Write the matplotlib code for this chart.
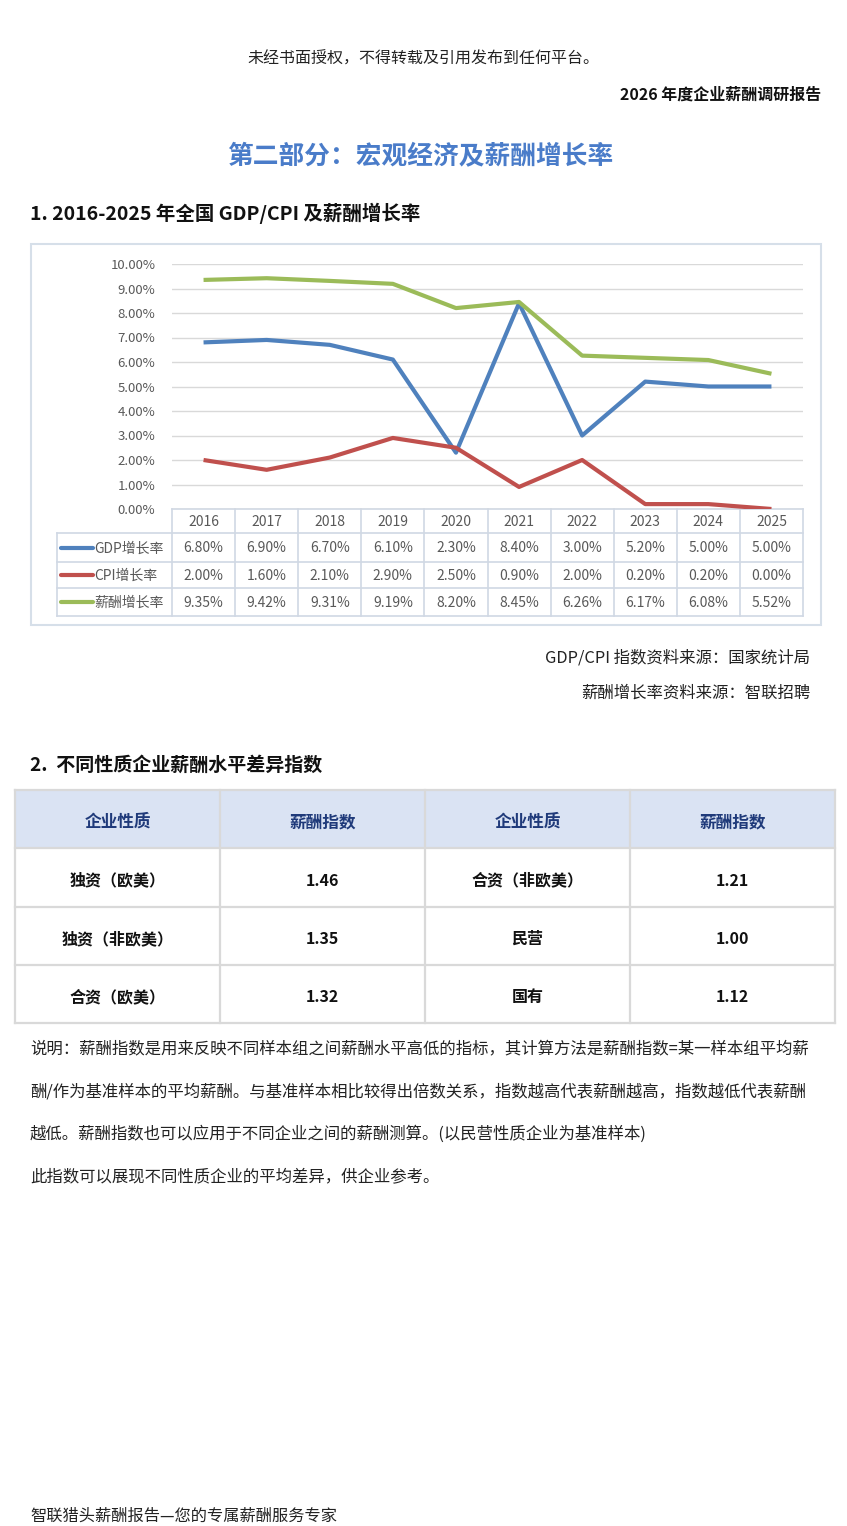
import matplotlib
matplotlib.use('Agg')
import matplotlib.pyplot as plt
import matplotlib.transforms as mtransforms
from matplotlib.patches import Rectangle

plt.rcParams['font.family'] = ['Noto Sans CJK SC', 'DejaVu Sans']

W, H = 847, 1526
DY = 3  # 文字垂直微调

# 图表数据
years = ['2016', '2017', '2018', '2019', '2020', '2021', '2022', '2023', '2024', '2025']
gdp = [6.80, 6.90, 6.70, 6.10, 2.30, 8.40, 3.00, 5.20, 5.00, 5.00]
cpi = [2.00, 1.60, 2.10, 2.90, 2.50, 0.90, 2.00, 0.20, 0.20, 0.00]
salary = [9.35, 9.42, 9.31, 9.19, 8.20, 8.45, 6.26, 6.17, 6.08, 5.52]
series_names = ['GDP增长率', 'CPI增长率', '薪酬增长率']
series_colors = ['#4f81bd', '#c0504d', '#9bbb59']
y_ticks = [0, 1, 2, 3, 4, 5, 6, 7, 8, 9, 10]

# 薪酬指数表
index_header = ['企业性质', '薪酬指数', '企业性质', '薪酬指数']
left_types = ['独资（欧美）', '独资（非欧美）', '合资（欧美）']
left_index = [1.46, 1.35, 1.32]
right_types = ['合资（非欧美）', '民营', '国有']
right_index = [1.21, 1.00, 1.12]

note_lines = [
    '说明：薪酬指数是用来反映不同样本组之间薪酬水平高低的指标，其计算方法是薪酬指数=某一样本组平均薪',
    '酬/作为基准样本的平均薪酬。与基准样本相比较得出倍数关系，指数越高代表薪酬越高，指数越低代表薪酬',
    '越低。薪酬指数也可以应用于不同企业之间的薪酬测算。(以民营性质企业为基准样本)',
    '此指数可以展现不同性质企业的平均差异，供企业参考。',
]

fig = plt.figure(figsize=(W / 100, H / 100), dpi=100)
page = fig.add_axes([0, 0, 1, 1])
page.set_xlim(0, W)
page.set_ylim(H, 0)
page.axis('off')

# 页眉
page.text(423, 56 + DY, '未经书面授权，不得转载及引用发布到任何平台。', ha='center', va='center',
          fontsize=11.5, color='#222222')
page.text(821, 92 + DY, '2026 年度企业薪酬调研报告', ha='right', va='center',
          fontsize=11.5, fontweight='bold', color='#111111')
page.text(420, 153 + DY, '第二部分：宏观经济及薪酬增长率', ha='center', va='center',
          fontsize=18.5, fontweight='bold', color='#4a7cc9')
page.text(30, 210 + DY, '1. 2016-2025 年全国 GDP/CPI 及薪酬增长率', ha='left', va='center',
          fontsize=14, fontweight='bold', color='#111111')

# 图表外框
page.add_patch(Rectangle((31, 244), 790, 381, fill=False, ec='#d6dfe9', lw=1.5))

# 折线图
x0, x1, y0, y1 = 172, 803, 264, 509
ax = fig.add_axes([x0 / W, 1 - y1 / H, (x1 - x0) / W, (y1 - y0) / H])
xs = list(range(len(years)))
for vals, c in zip([gdp, cpi, salary], series_colors):
    ax.plot(xs, vals, color=c, lw=3, solid_capstyle='butt', solid_joinstyle='round')
ax.set_xlim(-0.5, len(years) - 0.5)
ax.set_ylim(0, 10)
ax.set_yticks(y_ticks)
ax.set_yticklabels([f'{v:.2f}%' for v in y_ticks], fontsize=9.5, color='#595959')
ax.tick_params(axis='y', length=0, pad=12)
ax.set_xticks([])
ax.grid(axis='y', color='#d9d9d9', lw=1)
ax.set_axisbelow(True)
for s in ax.spines.values():
    s.set_visible(False)
ax.patch.set_alpha(0)

# 数据表（x 随折线图刻度）
tr = mtransforms.blended_transform_factory(ax.transData, page.transData)
row_edges = [509, 533, 562, 588, 616]
grid_c = '#d0d8e4'
page.plot([-0.5, 9.5], [row_edges[0]] * 2, transform=tr, color=grid_c, lw=1.2)
for yy in row_edges[1:]:
    page.plot([57, x1], [yy, yy], color=grid_c, lw=1.2)
for k in range(len(years) + 1):
    page.plot([k - 0.5, k - 0.5], [row_edges[0], row_edges[-1]], transform=tr, color=grid_c, lw=1.2)
page.plot([57, 57], [row_edges[1], row_edges[-1]], color=grid_c, lw=1.2)

ymid = [(row_edges[i] + row_edges[i + 1]) / 2 for i in range(4)]
for i, yr in enumerate(years):
    page.text(i, ymid[0] + 1, yr, transform=tr, ha='center', va='center', fontsize=10, color='#595959')
for r, (vals, name, c) in enumerate(zip([gdp, cpi, salary], series_names, series_colors)):
    yy = ymid[r + 1]
    page.plot([61, 93], [yy, yy], color=c, lw=3, solid_capstyle='round')
    page.text(94, yy + 1, name, ha='left', va='center', fontsize=10, color='#595959')
    for i, v in enumerate(vals):
        page.text(i, yy + 1, f'{v:.2f}%', transform=tr, ha='center', va='center', fontsize=10, color='#595959')

# 数据来源
page.text(810, 655 + DY, 'GDP/CPI 指数资料来源：国家统计局', ha='right', va='center', fontsize=11.8, color='#222222')
page.text(810, 690 + DY, '薪酬增长率资料来源：智联招聘', ha='right', va='center', fontsize=11.8, color='#222222')

# 第二部分表格
page.text(30, 762 + DY, '2.  不同性质企业薪酬水平差异指数', ha='left', va='center',
          fontsize=13.7, fontweight='bold', color='#111111')
tx = [15, 220, 425, 630, 835]
ty = [790, 848, 907, 965, 1023]
page.add_patch(Rectangle((tx[0], ty[0]), tx[-1] - tx[0], ty[1] - ty[0], fc='#dae3f3', ec='none'))
line_c = '#d9d9d9'
for yy in ty:
    page.plot([tx[0], tx[-1]], [yy, yy], color=line_c, lw=1.6)
for xx in tx:
    page.plot([xx, xx], [ty[0], ty[-1]], color=line_c, lw=1.6)
cx = [(tx[i] + tx[i + 1]) / 2 for i in range(4)]
cy = [(ty[i] + ty[i + 1]) / 2 for i in range(4)]
for i, h in enumerate(index_header):
    page.text(cx[i], cy[0] + DY, h, ha='center', va='center', fontsize=12, fontweight='bold', color='#1f3a7a')
for r in range(3):
    cells = [left_types[r], f'{left_index[r]:.2f}', right_types[r], f'{right_index[r]:.2f}']
    for i, t in enumerate(cells):
        page.text(cx[i], cy[r + 1] + DY, t, ha='center', va='center', fontsize=11.5, fontweight='bold', color='#111111')

# 说明
for i, line in enumerate(note_lines):
    page.text(30, 1046 + DY + i * 42.7, line, ha='left', va='center', fontsize=11.8, color='#222222')

# 页脚
page.text(30, 1513 + DY, '智联猎头薪酬报告—您的专属薪酬服务专家', ha='left', va='center', fontsize=11.7, color='#222222')

fig.savefig('out.png', dpi=100)
